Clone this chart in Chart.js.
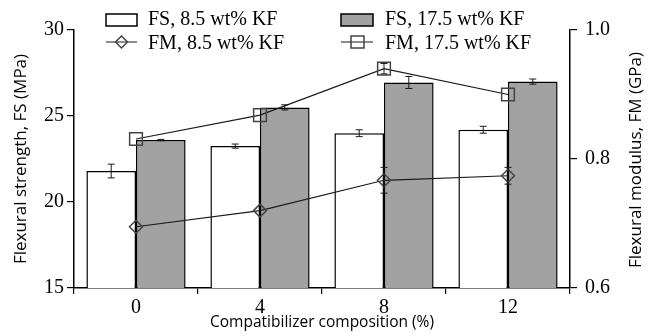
<!DOCTYPE html>
<html>
<head>
<meta charset="utf-8">
<script src="https://cdn.jsdelivr.net/npm/chart.js@4/dist/chart.umd.min.js"></script>
<style>
  body { margin: 0; background: #fff; }
  .pre { position: absolute; left: -999px; top: 0; }
</style>
</head>
<body>
<span class="pre" style="font-family:'Liberation Serif'">FS 0.8</span>
<span class="pre" style="font-family:'Open Sans'">Flexural</span>
<canvas id="c" width="655" height="336"></canvas>
<script>
// values
const categories = ['0', '4', '8', '12']
const fs85 = [21.8, 23.25, 24.0, 24.2]
const fs85Err = [0.4, 0.12, 0.2, 0.2]
const fs175 = [23.6, 25.5, 26.95, 27.0]
const fs175Err = [0.04, 0.15, 0.35, 0.15]
const fm85 = [0.695, 0.72, 0.767, 0.774]
const fm85Err = [0, 0, 0.02, 0.013]
const fm175 = [0.831, 0.868, 0.94, 0.90]
const fm175Err = [0, 0, 0.008, 0]
const leftTicks = [15, 20, 25, 30]
const rightTicks = [0.6, 0.8, 1.0]

const GREY = '#a2a2a2'
const INK = '#1a1a1a'
const serif = "'Liberation Serif', 'DejaVu Serif', serif"
const sans = "'Open Sans', 'Noto Sans', sans-serif"

Chart.defaults.font.family = serif
Chart.defaults.color = '#000'

// error bars for every dataset that has an err list
const errorBars = {
  id: 'errorBars',
  afterDatasetsDraw(chart) {
    const ctx = chart.ctx
    chart.data.datasets.forEach((ds, i) => {
      if (!ds.err) return
      const meta = chart.getDatasetMeta(i)
      const scale = chart.scales[ds.yAxisID]
      meta.data.forEach((el, j) => {
        const e = ds.err[j]
        if (!e) return
        const v = ds.data[j]
        const yTop = scale.getPixelForValue(v + e)
        const yBot = scale.getPixelForValue(v - e)
        ctx.save()
        ctx.strokeStyle = INK
        ctx.lineWidth = 1
        ctx.beginPath()
        ctx.moveTo(el.x, yTop); ctx.lineTo(el.x, yBot)
        ctx.moveTo(el.x - 3.5, yTop); ctx.lineTo(el.x + 3.5, yTop)
        ctx.moveTo(el.x - 3.5, yBot); ctx.lineTo(el.x + 3.5, yBot)
        ctx.stroke()
        ctx.restore()
      })
    })
  }
}

// legend in two columns and the right axis title (reads bottom to top)
const extras = {
  id: 'extras',
  afterDraw(chart) {
    const ctx = chart.ctx
    ctx.save()
    ctx.font = '20px ' + serif
    ctx.textBaseline = 'middle'
    ctx.lineWidth = 1.5
    ctx.strokeStyle = '#000'

    // row 1 boxes
    ctx.fillStyle = '#fff'
    ctx.fillRect(106, 14, 31, 12)
    ctx.strokeRect(106, 14, 31, 12)
    ctx.fillStyle = GREY
    ctx.fillRect(341, 14, 32, 12)
    ctx.strokeRect(341, 14, 32, 12)

    // row 2 lines with markers
    ctx.strokeStyle = INK
    ctx.lineWidth = 1.2
    ctx.beginPath()
    ctx.moveTo(106, 42); ctx.lineTo(137, 42)
    ctx.moveTo(341, 42); ctx.lineTo(373, 42)
    ctx.stroke()
    ctx.lineWidth = 1.5
    ctx.strokeStyle = '#444'
    ctx.beginPath()
    ctx.moveTo(121.5, 36); ctx.lineTo(127.5, 42); ctx.lineTo(121.5, 48); ctx.lineTo(115.5, 42); ctx.closePath()
    ctx.stroke()
    ctx.strokeRect(351, 36, 13, 12)

    ctx.fillStyle = '#000'
    ctx.fillText('FS, 8.5 wt% KF', 148, 20)
    ctx.fillText('FM, 8.5 wt% KF', 148, 44)
    ctx.fillText('FS, 17.5 wt% KF', 385, 20)
    ctx.fillText('FM, 17.5 wt% KF', 385, 44)

    ctx.font = '17px ' + sans
    ctx.translate(636, 160)
    ctx.rotate(-Math.PI / 2)
    ctx.textAlign = 'center'
    ctx.fillText('Flexural modulus, FM (GPa)', 0, 0)
    ctx.restore()
  }
}

function drawChart() {
  new Chart(document.getElementById('c'), {
    data: {
      labels: categories,
      datasets: [
        {
          type: 'line', label: 'FM, 8.5 wt% KF', data: fm85, err: fm85Err, yAxisID: 'y1', order: 0,
          borderColor: INK, borderWidth: 1.2, pointStyle: 'rectRot', pointRadius: 6.5,
          pointBorderColor: '#444', pointBorderWidth: 1.5, pointBackgroundColor: 'rgba(255,255,255,0)'
        },
        {
          type: 'line', label: 'FM, 17.5 wt% KF', data: fm175, err: fm175Err, yAxisID: 'y1', order: 0,
          borderColor: INK, borderWidth: 1.2, pointStyle: 'rect', pointRadius: 9,
          pointBorderColor: '#444', pointBorderWidth: 1.5, pointBackgroundColor: 'rgba(255,255,255,0)'
        },
        {
          type: 'bar', label: 'FS, 8.5 wt% KF', data: fs85, err: fs85Err, yAxisID: 'y', order: 1,
          backgroundColor: '#fff', borderColor: '#000', borderWidth: 1.5
        },
        {
          type: 'bar', label: 'FS, 17.5 wt% KF', data: fs175, err: fs175Err, yAxisID: 'y', order: 1,
          backgroundColor: GREY, borderColor: '#000', borderWidth: 1.5
        }
      ]
    },
    options: {
      responsive: false,
      animation: false,
      devicePixelRatio: 1,
      categoryPercentage: 0.8,
      barPercentage: 1.0,
      layout: { padding: { top: 30, right: 0, left: 0, bottom: 0 } },
      plugins: { legend: { display: false }, tooltip: { enabled: false } },
      scales: {
        x: {
          offset: true,
          afterFit: s => { s.height = 48 },
          grid: { offset: true, drawOnChartArea: false, drawTicks: true, tickLength: 6, color: '#000', lineWidth: 1.2 },
          border: { color: '#000', width: 1.5 },
          ticks: { font: { size: 20 }, padding: 2, color: '#000' },
          title: { display: true, text: 'Compatibilizer composition (%)', font: { family: sans, size: 15.5 }, color: '#000', padding: { top: 0, bottom: 4 } }
        },
        y: {
          position: 'left', min: 15, max: 30,
          afterFit: s => { s.width = 74 },
          afterBuildTicks: s => { s.ticks = leftTicks.map(v => ({ value: v })) },
          grid: { drawOnChartArea: false, tickLength: 7, color: '#000', lineWidth: 1.2 },
          border: { color: '#000', width: 1.5 },
          ticks: { font: { size: 20 }, padding: 3, color: '#000' },
          title: { display: true, text: 'Flexural strength, FS (MPa)', font: { family: sans, size: 17 }, color: '#000', padding: { top: 11, bottom: 0 } }
        },
        y1: {
          position: 'right', min: 0.6, max: 1.0,
          afterFit: s => { s.width = 85 },
          afterBuildTicks: s => { s.ticks = rightTicks.map(v => ({ value: v })) },
          grid: { drawOnChartArea: false, tickLength: 7, color: '#000', lineWidth: 1.2 },
          border: { color: '#000', width: 1.5 },
          ticks: { font: { size: 20 }, padding: 8, color: '#000', callback: v => Number(v).toFixed(1) }
        }
      }
    },
    plugins: [errorBars, extras]
  })
}

Promise.all([
  document.fonts.load("20px 'Liberation Serif'"),
  document.fonts.load("17px 'Open Sans'")
]).then(drawChart, drawChart)
</script>
</body>
</html>
